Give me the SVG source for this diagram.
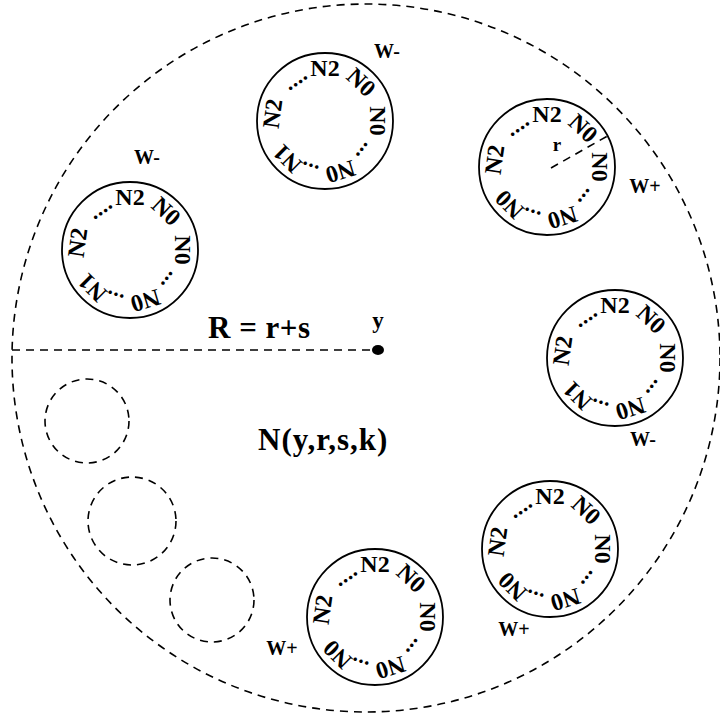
<svg xmlns="http://www.w3.org/2000/svg" width="720" height="718" viewBox="0 0 720 718">
<style>
text{font-family:"Liberation Serif","Times New Roman",serif;font-weight:bold;fill:#000}
.ring{font-size:24px;text-anchor:middle}
.dots{font-size:22px;text-anchor:middle;letter-spacing:0.5px}
.w{font-size:20px;text-anchor:middle}
.big{font-size:31px}
.solid{fill:none;stroke:#000;stroke-width:1.8}
.dash{fill:none;stroke:#000;stroke-width:1.6;stroke-dasharray:8 6}
</style>
<rect width="720" height="718" fill="#fff"/>
<defs>
<g id="ringW">
<circle class="solid" r="68"/>
<text class="dots" transform="rotate(-35)" y="-45">....</text>
<text class="ring" y="-45">N2</text>
<text class="ring" transform="rotate(43)" y="-45">N0</text>
<text class="ring" transform="rotate(90)" y="-45">N0</text>
<text class="dots" transform="rotate(128)" y="-45">...</text>
<text class="ring" transform="rotate(163)" y="-45">N0</text>
<text class="dots" transform="rotate(198)" y="-45">...</text>
<text class="ring" transform="rotate(278)" y="-45">N2</text>
</g>
</defs>
<g id="boundary">
<circle class="dash" cx="366" cy="358" r="354"/>
</g>
<g id="connectors">
<line class="dash" x1="12" y1="350" x2="376" y2="350"/>
<line class="dash" x1="551" y1="168" x2="611" y2="134"/>
</g>
<g id="center">
<ellipse cx="378" cy="350" rx="6" ry="5" fill="#000"/>
<text x="378" y="328" style="font-size:23px" text-anchor="middle">y</text>
<text class="big" x="208" y="338" letter-spacing="0.5">R = r+s</text>
<text class="big" x="258" y="450" letter-spacing="1">N(y,r,s,k)</text>
</g>
<g id="node-top" transform="translate(325,121)">
<use href="#ringW"/>
<text class="ring" transform="rotate(225)" y="-45">N1</text>
</g>
<text class="w" x="387" y="58">W-</text>
<g id="node-left" transform="translate(130,250)">
<use href="#ringW"/>
<text class="ring" transform="rotate(225)" y="-45">N1</text>
</g>
<text class="w" x="147" y="164">W-</text>
<g id="node-upper-right" transform="translate(547,167)">
<use href="#ringW"/>
<text class="ring" transform="rotate(225)" y="-45">N0</text>
<text x="10" y="-16" style="font-size:19px" text-anchor="middle">r</text>
</g>
<text class="w" x="645" y="193">W+</text>
<g id="node-right" transform="translate(615,358)">
<use href="#ringW"/>
<text class="ring" transform="rotate(225)" y="-45">N1</text>
</g>
<text class="w" x="643" y="446">W-</text>
<g id="node-lower-right" transform="translate(550,549)">
<use href="#ringW"/>
<text class="ring" transform="rotate(225)" y="-45">N0</text>
</g>
<text class="w" x="514" y="636">W+</text>
<g id="node-bottom" transform="translate(375,617)">
<use href="#ringW"/>
<text class="ring" transform="rotate(225)" y="-45">N0</text>
</g>
<text class="w" x="282" y="655">W+</text>
<g id="ghosts">
<circle class="dash" cx="87" cy="421" r="42"/>
<circle class="dash" cx="132" cy="521" r="44"/>
<circle class="dash" cx="212" cy="600" r="42"/>
</g>
</svg>
